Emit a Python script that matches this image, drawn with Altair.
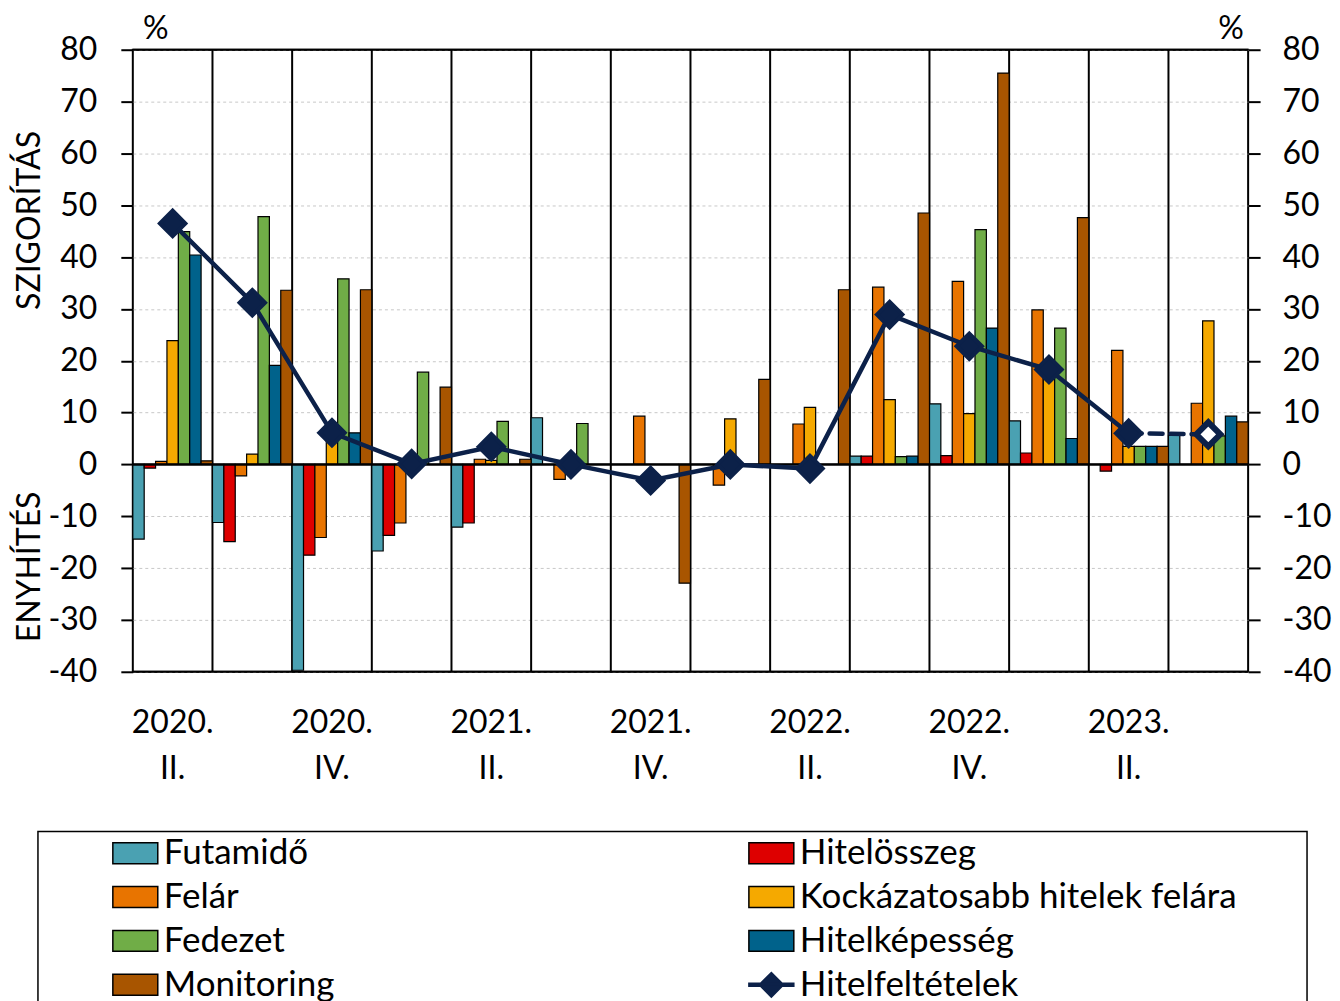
import json
import altair as alt
import pandas as pd

# ---------------- data ----------------
quarters = ["2020. II.", "2020. III.", "2020. IV.", "2021. I.", "2021. II.", "2021. III.",
            "2021. IV.", "2022. I.", "2022. II.", "2022. III.", "2022. IV.", "2023. I.",
            "2023. II.", "2023. III."]
shown_labels = ["2020. II.", "2020. IV.", "2021. II.", "2021. IV.", "2022. II.", "2022. IV.", "2023. II."]

series = ["Futamidő", "Hitelösszeg", "Felár", "Kockázatosabb hitelek felára",
          "Fedezet", "Hitelképesség", "Monitoring"]
line_name = "Hitelfeltételek"

futamido = [-14.4, -11.2, -39.7, -16.7, -12.1, 9.0, 0, 0, 0, 1.6, 11.7, 8.4, 0, 5.6]
hitelosszeg = [-0.7, -14.9, -17.5, -13.7, -11.3, 0, 0, 0, 0, 1.6, 1.7, 2.2, -1.3, 0]
felar = [0.6, -2.2, -14.1, -11.3, 1.0, -2.9, 9.3, -4.0, 7.8, 34.2, 35.3, 29.8, 22.0, 11.8]
kockazatosabb = [23.9, 2.0, 5.0, 0, 0.8, 0, 0, 8.8, 11.0, 12.5, 9.8, 19.0, 3.5, 27.7]
fedezet = [44.9, 47.8, 35.8, 17.8, 8.3, 7.9, 0, 0, 0, 1.5, 45.3, 26.3, 3.5, 5.5]
hitelkepesseg = [40.4, 19.1, 6.1, 0, 0, 0, 0, 0, 0, 1.6, 26.3, 5.0, 3.5, 9.3]
monitoring = [0.7, 33.6, 33.7, 14.9, 1.0, 0, -22.9, 16.4, 33.7, 48.5, 75.5, 47.6, 3.5, 8.2]
hitelfeltetelek = [46.5, 31.2, 6.1, 0.1, 3.4, 0.0, -3.1, 0.0, -0.8, 28.9, 22.8, 18.3, 6.0, 5.8]

bar_colors = ["#4AA1B2", "#DE0000", "#E87400", "#F5A900", "#70AD47", "#00628B", "#A85500"]
navy = "#0C2149"

# ---------------- tables ----------------
rows = []
for s, vals in zip(series, [futamido, hitelosszeg, felar, kockazatosabb, fedezet, hitelkepesseg, monitoring]):
    for q, v in zip(quarters, vals):
        rows.append({"q": q, "series": s, "value": v})
bars_df = pd.DataFrame(rows)
line_df = pd.DataFrame({"q": quarters, "value": hitelfeltetelek, "idx": list(range(len(quarters)))})

all_series = series + [line_name]
all_colors = bar_colors + [navy]
# legend fills column by column: reorder so that it reads row by row
legend_order = [all_series[i] for i in (0, 2, 4, 6, 1, 3, 5, 7)]
legend_colors = [all_colors[i] for i in (0, 2, 4, 6, 1, 3, 5, 7)]
legend_df = pd.DataFrame({"series": legend_order})

W, H = 1117, 623
FONT = "Lato"
FS = 32
LFS = 35

y_dom = [-40, 80]
y_vals = list(range(-40, 81, 10))

label_expr = "indexof(%s, datum.value) >= 0 ? split(datum.value, ' ') : ''" % json.dumps(shown_labels)

x_axis = alt.Axis(title=None, orient="bottom", domain=False, ticks=False, tickSize=0,
                  labelAngle=0, labelAlign="center", labelFont=FONT, labelFontSize=FS,
                  labelColor="black", labelPadding=36, labelLineHeight=46, labelBaseline="top",
                  labelExpr=label_expr, labelOverlap=False, grid=False)

def y_axis(orient, grid, pad):
    return alt.Axis(title=None, orient=orient, values=y_vals, domain=False,
                    ticks=True, tickSize=12, tickWidth=2, tickColor="black",
                    labelFont=FONT, labelFontSize=FS, labelColor="black", labelPadding=pad,
                    labelExpr="datum.value + ''",
                    grid=grid, gridColor="#C8C8C8", gridDash=[3, 3], gridWidth=1)

def yscale():
    return alt.Scale(domain=y_dom, nice=False)

def xq(axis=None, **kw):
    return alt.X("q:N", scale=alt.Scale(domain=quarters, paddingInner=0, paddingOuter=0),
                 sort=quarters, axis=axis, **kw)

# ---------------- layers ----------------
separators = alt.Chart(line_df).transform_filter(alt.datum.idx >= 1).mark_rule(
    color="black", strokeWidth=2
).encode(
    x=xq(bandPosition=0),
    y=alt.value(0), y2=alt.value(H)
)

bars = alt.Chart(bars_df).mark_bar(stroke="black", strokeWidth=1.2).encode(
    x=xq(axis=x_axis),
    xOffset=alt.XOffset("series:N", scale=alt.Scale(domain=series, paddingInner=0, paddingOuter=0)),
    y=alt.Y("value:Q", scale=yscale(), axis=y_axis("left", True, 24)),
    y2=alt.datum(0),
    fill=alt.Fill("series:N", scale=alt.Scale(domain=series, range=bar_colors), legend=None),
)

zero_rule = alt.Chart(pd.DataFrame({"v": [0]})).mark_rule(color="black", strokeWidth=2.5).encode(
    y=alt.Y("v:Q", scale=yscale(), axis=None),
    x=alt.value(0), x2=alt.value(W)
)

frame_df = pd.DataFrame({"v": [y_dom[0], y_dom[1]]})
frame = alt.Chart(frame_df).mark_rule(color="black", strokeWidth=2).encode(
    y=alt.Y("v:Q", scale=yscale(), axis=None),
    x=alt.value(0), x2=alt.value(W)
)

line_solid = alt.Chart(line_df).transform_filter(alt.datum.idx <= 12).mark_line(
    color=navy, strokeWidth=4.5
).encode(
    x=xq(),
    y=alt.Y("value:Q", scale=yscale(), axis=y_axis("right", False, 22)),
)

line_dash = alt.Chart(line_df).transform_filter(alt.datum.idx >= 12).mark_line(
    color=navy, strokeWidth=4.5, strokeDash=[13, 8], strokeCap="round"
).encode(
    x=xq(),
    y=alt.Y("value:Q", scale=yscale(), axis=None),
)

pts_filled = alt.Chart(line_df).transform_filter(alt.datum.idx <= 12).mark_point(
    shape="diamond", filled=True, fill=navy, stroke=navy, strokeWidth=4, size=650, opacity=1
).encode(
    x=xq(),
    y=alt.Y("value:Q", scale=yscale(), axis=None),
)

pts_hollow = alt.Chart(line_df).transform_filter(alt.datum.idx == 13).mark_point(
    shape="diamond", filled=True, fill="white", stroke=navy, strokeWidth=6, size=580, opacity=1
).encode(
    x=xq(),
    y=alt.Y("value:Q", scale=yscale(), axis=None),
)

rect_path = "M-1.5,-0.7H1.5V0.7H-1.5Z"
line_path = "M-1.5,-0.1H1.5V0.1H-1.5Z M0,-0.82L0.82,0L0,0.82L-0.82,0Z"
legend_shapes = [line_path if s == line_name else rect_path for s in legend_order]
legend_strokes = [navy if s == line_name else "black" for s in legend_order]
legend_def = alt.Legend(
    title=None, orient="none", legendX=-15, legendY=787, columns=2, columnPadding=412,
    rowPadding=8, padding=0, labelFont=FONT, labelFontSize=LFS, labelColor="black",
    labelLimit=1000, labelOffset=11, symbolSize=900, symbolStrokeWidth=1.5, symbolOpacity=1,
)
legend_layer = alt.Chart(legend_df).transform_filter("false").mark_point(filled=True, opacity=1).encode(
    color=alt.Color("series:N", scale=alt.Scale(domain=legend_order, range=legend_colors),
                    legend=legend_def),
    shape=alt.Shape("series:N", scale=alt.Scale(domain=legend_order, range=legend_shapes),
                    legend=legend_def),
    stroke=alt.Stroke("series:N", scale=alt.Scale(domain=legend_order, range=legend_strokes),
                      legend=legend_def),
)

legend_box = alt.Chart(pd.DataFrame({"a": [0]})).mark_rect(
    filled=False, stroke="black", strokeWidth=1.5
).encode(
    x=alt.value(-95), x2=alt.value(1176), y=alt.value(783), y2=alt.value(990)
)

txt = pd.DataFrame({"a": [0]})
pct_left = alt.Chart(txt).mark_text(text="%", font=FONT, fontSize=FS, color="black",
                                    align="center", baseline="middle").encode(
    x=alt.value(23), y=alt.value(-21))
pct_right = alt.Chart(txt).mark_text(text="%", font=FONT, fontSize=FS, color="black",
                                     align="center", baseline="middle").encode(
    x=alt.value(1100), y=alt.value(-21))
title_up = alt.Chart(txt).mark_text(text="SZIGORÍTÁS", font=FONT, fontSize=FS, color="black",
                                    align="center", baseline="middle", angle=270).encode(
    x=alt.value(-103), y=alt.value(171))
title_down = alt.Chart(txt).mark_text(text="ENYHÍTÉS", font=FONT, fontSize=FS, color="black",
                                      align="center", baseline="middle", angle=270).encode(
    x=alt.value(-103), y=alt.value(518))

chart = alt.layer(
    separators, bars, zero_rule, frame, line_solid, line_dash, pts_filled, pts_hollow,
    legend_layer, legend_box, pct_left, pct_right, title_up, title_down
).resolve_scale(x="independent", y="independent").properties(
    width=W, height=H,
    padding={"left": 6, "top": 4, "right": 0, "bottom": 5},
    background="white",
).configure_view(stroke="black", strokeWidth=2)

chart.save("out.html", embed_options={"renderer": "svg", "actions": False})
